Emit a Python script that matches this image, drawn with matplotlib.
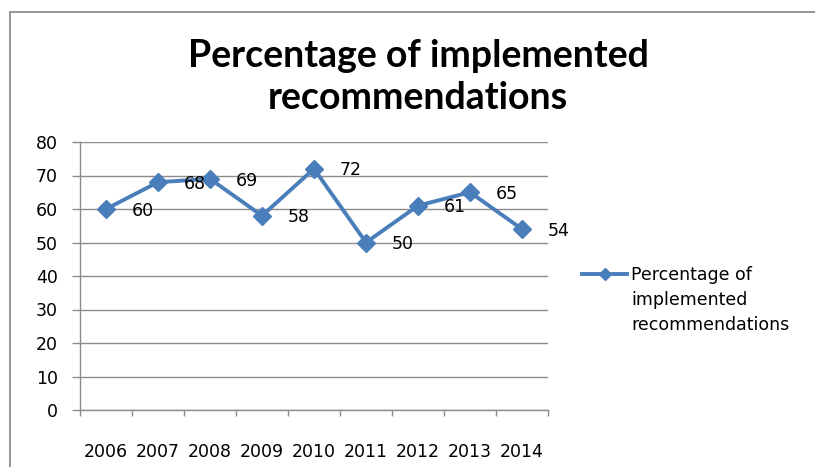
import matplotlib
matplotlib.use("Agg")
import matplotlib.pyplot as plt
from matplotlib.lines import Line2D
from matplotlib.patches import Rectangle

years = ["2006", "2007", "2008", "2009", "2010", "2011", "2012", "2013", "2014"]
values = [60, 68, 69, 58, 72, 50, 61, 65, 54]
yticks = [0, 10, 20, 30, 40, 50, 60, 70, 80]
title = "Percentage of implemented\nrecommendations"
legend_lines = ["Percentage of", "implemented", "recommendations"]

W, H = 815, 467
fig = plt.figure(figsize=(W / 100, H / 100), dpi=100)
fig.patch.set_facecolor("white")

# chart-area border (Excel style)
fig.patches.append(Rectangle((10 / W, -0.05), 1.0, 1 - 12 / H + 0.05,
                             transform=fig.transFigure, fill=False,
                             edgecolor="#8c8c8c", linewidth=1.3, clip_on=False))

ax = fig.add_axes([80 / W, 1 - 410 / H, (548 - 80) / W, (410 - 142) / H])

blue = "#4A7EBB"
x = list(range(len(years)))
ax.plot(x, values, color=blue, linewidth=2.8, marker="D", markersize=9.5,
        markeredgecolor=blue, markerfacecolor=blue, zorder=3, clip_on=False)

for xi, v in zip(x, values):
    ax.annotate(str(v), (xi, v), xytext=(18.5, -1.2), textcoords="offset points",
                ha="left", va="center", fontsize=12.5, color="black",
                family="DejaVu Sans", zorder=4)

ax.set_xlim(-0.5, len(years) - 0.5)
ax.set_ylim(0, 80)
ax.set_yticks(yticks)
ax.set_yticklabels([str(t) for t in yticks])
ax.set_xticks(x)
ax.set_xticklabels(years)
ax.set_xticks([i - 0.5 for i in range(len(years) + 1)], minor=True)

ax.tick_params(axis="x", which="major", length=0, pad=24, labelsize=12.5)
ax.tick_params(axis="x", which="minor", length=4.5, width=1, color="#8c8c8c", direction="out")
ax.tick_params(axis="y", which="major", length=6, width=1, color="#8c8c8c", pad=10,
               labelsize=12.5, direction="out")

ax.yaxis.grid(True, color="#8c8c8c", linewidth=1)
ax.set_axisbelow(True)
for s in ["top", "right"]:
    ax.spines[s].set_visible(False)
for s in ["left", "bottom"]:
    ax.spines[s].set_color("#8c8c8c")
    ax.spines[s].set_linewidth(1)

fig.text(418 / W, 1 - 77 / H, title, ha="center", va="center",
         fontsize=27, fontweight="bold", family="Lato", linespacing=1.28)

handles = [Line2D([], [], color=blue, linewidth=2.8, marker="D", markersize=6.5),
           Line2D([], [], alpha=0), Line2D([], [], alpha=0)]
leg = ax.legend(handles, legend_lines, loc="upper left",
                bbox_to_anchor=(582 / W, 1 - 266 / H), bbox_transform=fig.transFigure,
                frameon=False, fontsize=12.5, handlelength=2.6, handletextpad=0.25,
                labelspacing=0.4, borderpad=0, borderaxespad=0)

fig.savefig("out.png", dpi=100)
